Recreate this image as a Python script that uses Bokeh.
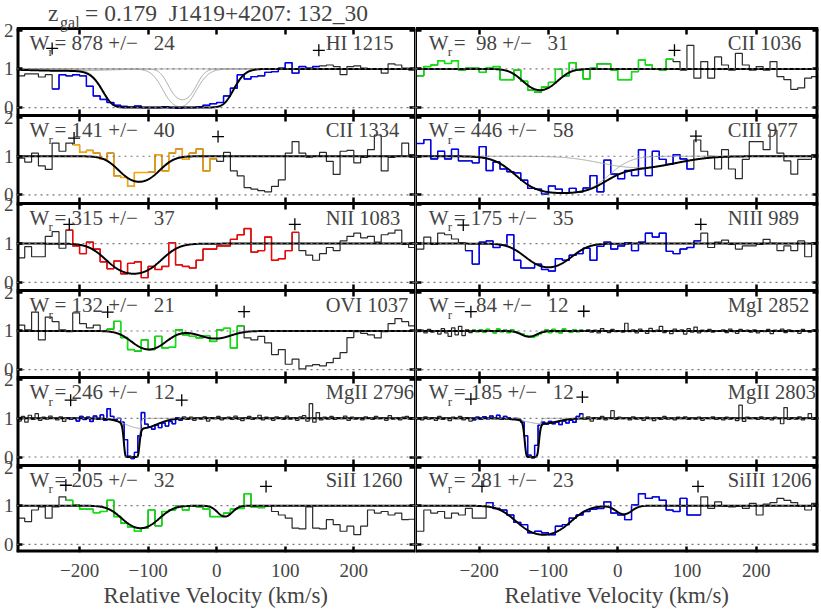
import numpy as np
from bokeh.plotting import figure
from bokeh.layouts import gridplot
from bokeh.models import LinearAxis, FixedTicker, Span, Label, Range1d
from bokeh.embed import file_html
from bokeh.resources import INLINE

FONT = "Liberation Serif"

# ---------------- axes / text ----------------
vel_min, vel_max = -292, 290
flux_min, flux_max = -0.21, 2.05
x_ticks = [-200, -100, 0, 100, 200]
x_tick_labels = ["\u2212200", "\u2212100", "0", "100", "200"]
y_ticks = [0, 1, 2]
x_axis_title = "Relative Velocity (km/s)"
title_z = "z"
title_sub = "gal"
title_rest = "= 0.179\u00a0\u00a0J1419+4207: 132_30"

# binning of the spectra (km/s)
cos_start, cos_width = -290.0, 10.0
hires_start, hires_width = -290.0, 5.0

# ---------------- HI 1215 ----------------
hi1215_flux = [0.82, 0.87, 0.87, 0.79, 0.85, 0.48, 0.85, 0.82, 0.85, 0.82,
               0.55, 0.30, 0.21, 0.13, 0.06, 0.03, 0.01, 0.04, 0.0, 0.0,
               0.0, 0.02, 0.0, -0.02, 0.0, 0.0, 0.02, 0.06, 0.10, 0.13,
               0.30, 0.50, 0.85, 0.74, 0.80, 0.82, 0.91, 0.93, 1.02, 1.16,
               0.89, 1.06, 1.02, 1.06, 1.08, 1.10, 1.06, 0.85, 1.06, 1.08,
               1.02, 0.99, 0.99, 0.89, 1.13, 1.10, 1.02, 0.97]
hi1215_window = [-240, 150]
hi1215_plus_v = [-240, 149]
hi1215_plus_y = [1.53, 1.48]
hi1215_comp_v = [-98, -27, -50, -220]
hi1215_comp_tau = [15.0, 7.7, 1.6, 0.05]
hi1215_comp_b = [40, 34, 20, 80]

# ---------------- CII 1036 ----------------
cii1036_flux = [0.82, 1.06, 1.10, 1.21, 1.14, 1.21, 0.97, 1.02, 1.02, 0.91,
                1.03, 1.06, 0.72, 0.72, 0.97, 0.68, 0.45, 0.40, 0.53, 0.65,
                0.99, 0.82, 1.16, 0.97, 0.74, 1.02, 1.13, 1.13, 0.97, 0.72,
                0.72, 0.93, 1.23, 1.10, 1.00, 0.97, 1.25, 1.19, 0.97, 1.61,
                0.76, 1.19, 0.76, 1.31, 1.10, 0.97, 1.40, 1.10, 0.97, 1.06,
                0.97, 1.19, 0.80, 0.72, 0.47, 0.51, 0.76, 0.80]
cii1036_window = [-292, 80]
cii1036_plus_v = [82]
cii1036_plus_y = [1.48]
cii1036_comp_v = [-112]
cii1036_comp_tau = [0.8]
cii1036_comp_b = [29]

# ---------------- CII 1334 ----------------
cii1334_flux = [0.95, 0.85, 1.08, 0.75, 0.66, 1.34, 1.13, 1.34, 1.30, 1.10,
                1.15, 1.08, 0.92, 1.08, 0.49, 0.45, 0.22, 0.58, 0.58, 0.59,
                1.04, 0.62, 1.08, 1.19, 0.92, 1.08, 1.19, 0.62, 0.93, 0.87,
                1.10, 0.62, 0.49, 0.19, 0.15, 0.11, 0.08, 0.22, 0.39, 1.08,
                1.38, 1.08, 0.98, 1.00, 1.10, 0.87, 0.53, 1.13, 1.15, 0.83,
                0.97, 1.17, 1.55, 0.62, 0.97, 1.00, 1.34, 1.04]
cii1334_window = [-212, 0]
cii1334_plus_v = [-208, 2]
cii1334_plus_y = [1.47, 1.51]
cii1334_comp_v = [-113]
cii1334_comp_tau = [1.08]
cii1334_comp_b = [32]

# ---------------- CIII 977 ----------------
ciii977_flux = [1.33, 1.43, 0.93, 1.13, 0.93, 1.18, 0.88, 0.88, 0.83, 1.25,
                0.63, 0.85, 0.67, 0.60, 0.57, 0.38, 0.17, 0.15, 0.02, 0.23,
                0.15, 0.04, 0.17, 0.08, 0.18, 0.50, 0.08, 0.90, 0.54, 0.42,
                0.63, 0.50, 1.17, 0.50, 1.13, 0.92, 0.79, 1.04, 0.93, 0.67,
                1.42, 1.13, 1.00, 0.67, 1.17, 0.67, 0.42, 0.92, 1.38, 1.38,
                1.17, 1.67, 1.08, 0.88, 0.54, 0.92, 0.92, 1.04]
ciii977_window = [-292, 113]
ciii977_plus_v = [113]
ciii977_plus_y = [1.52]
ciii977_comp_v = [-80, 30]
ciii977_comp_tau = [3.0, 0.35]
ciii977_comp_b = [55, 70]

# ---------------- NII 1083 ----------------
nii1083_flux = [0.63, 0.92, 0.66, 0.66, 1.19, 1.31, 0.88, 1.35, 0.94, 0.74,
                1.04, 0.86, 0.53, 0.35, 0.55, 0.22, 0.49, 0.53, 0.12, 0.41,
                0.33, 0.41, 1.02, 0.45, 0.41, 0.37, 0.57, 0.86, 0.86, 0.94,
                0.94, 1.11, 1.23, 1.39, 0.78, 0.82, 1.17, 0.57, 0.61, 0.82,
                1.29, 0.82, 0.70, 0.57, 0.74, 0.90, 0.82, 1.07, 1.19, 1.27,
                1.15, 1.19, 1.04, 1.23, 1.27, 1.35, 0.98, 0.90]
nii1083_window = [-216, 120]
nii1083_plus_v = [-215, 114]
nii1083_plus_y = [1.50, 1.50]
nii1083_comp_v = [-121]
nii1083_comp_tau = [1.51]
nii1083_comp_b = [40]

# ---------------- NIII 989 ----------------
niii989_flux = [0.86, 1.17, 0.98, 1.27, 1.23, 1.12, 1.02, 0.82, 0.47, 1.04,
                1.07, 0.90, 0.96, 1.23, 0.57, 0.37, 0.37, 0.47, 0.33, 0.29,
                0.61, 0.57, 0.70, 0.74, 0.88, 0.57, 0.93, 1.04, 0.86, 0.94,
                1.02, 0.82, 1.04, 1.27, 1.17, 1.27, 0.80, 0.74, 0.86, 0.90,
                1.07, 1.27, 0.90, 1.04, 1.09, 0.98, 0.86, 0.94, 0.94, 0.98,
                1.11, 1.01, 0.82, 0.94, 0.82, 1.07, 0.66, 1.02]
niii989_window = [-223, 119]
niii989_plus_v = [-223, 120]
niii989_plus_y = [1.48, 1.50]
niii989_comp_v = [-100]
niii989_comp_tau = [0.95]
niii989_comp_b = [37]

# ---------------- OVI 1037 ----------------
ovi1037_flux = [1.15, 1.03, 1.49, 0.77, 1.36, 1.24, 1.03, 0.98, 1.47, 1.19,
                1.08, 1.15, 1.00, 1.05, 1.25, 0.83, 0.52, 0.48, 0.77, 0.52,
                0.86, 0.56, 0.58, 1.03, 0.90, 0.86, 0.82, 0.88, 0.73, 1.03,
                1.07, 0.56, 1.13, 0.82, 0.77, 0.86, 0.69, 0.39, 0.52, 0.14,
                0.27, 0.02, 0.10, 0.13, 0.10, 0.18, 0.29, 0.44, 0.83, 0.98,
                0.94, 0.90, 0.82, 0.98, 1.19, 1.32, 1.24, 1.13]
ovi1037_window = [-160, 42]
ovi1037_plus_v = [-159, 40]
ovi1037_plus_y = [1.49, 1.50]
ovi1037_comp_v = [-99, -2]
ovi1037_comp_tau = [0.65, 0.22]
ovi1037_comp_b = [30, 30]

# ---------------- MgI 2852 ----------------
mgi2852_flux = [0.98, 1.02, 0.95, 1.04, 0.97, 1.01, 0.92, 1.06, 0.95, 0.86,
                1.08, 0.90, 1.12, 0.88, 1.03, 0.96,
                1.02, 0.98, 1.03, 0.97, 1.04, 0.99, 0.95, 1.05, 0.98, 1.02,
                0.96, 1.03, 0.98, 0.94, 0.92, 0.88, 0.86, 0.84, 0.88, 0.93,
                0.97, 1.03, 0.96, 1.04, 0.98, 0.95, 1.05, 0.99, 0.97, 1.03,
                0.98, 1.02, 0.99,
                1.03, 0.97, 1.02, 0.95, 1.06, 0.99, 0.96, 1.04, 0.98, 1.01,
                0.97, 1.20, 0.98, 1.03, 0.95, 1.05, 0.99, 0.94, 1.07, 0.98,
                1.02, 1.12, 0.96, 1.01, 0.93, 1.05, 0.99, 1.03, 0.92, 1.06,
                0.97, 1.10, 0.95, 1.02, 0.98, 1.04, 0.97, 1.01, 0.99, 1.03,
                0.96, 1.05, 0.98, 0.94, 1.04, 0.99, 1.02, 0.97, 1.03, 0.95,
                1.01, 0.98, 1.04, 0.93, 1.02, 0.99, 1.05, 0.96, 1.03, 0.98,
                1.01, 0.94, 1.04, 0.99, 0.97, 1.02, 1.00]
mgi2852_window = [-212, -49]
mgi2852_plus_v = [-212, -49]
mgi2852_plus_y = [1.50, 1.51]
mgi2852_comp_v = [-128]
mgi2852_comp_tau = [0.16]
mgi2852_comp_b = [15]

# ---------------- MgII 2796 ----------------
mgii2796_flux = [0.93, 1.05, 0.90, 1.08, 0.97, 1.12, 0.95, 1.03, 0.98, 1.06,
                 1.00, 0.96, 1.04, 0.92, 1.02, 0.98,
                 1.00, 0.93, 1.05, 0.97, 1.03, 0.92, 1.06, 0.98, 1.09, 0.95,
                 1.25, 1.05, 0.97, 1.00, 0.90, 0.45, 0.02, -0.04, 0.12, 0.55,
                 1.15, 0.85, 0.78, 0.72, 0.83, 0.76, 0.88, 0.80, 0.92, 0.86,
                 1.02, 0.95, 1.04,
                 0.97, 1.03, 0.95, 1.01, 0.98, 1.04, 0.93, 1.02, 0.99, 1.05,
                 0.96, 1.00, 1.03, 0.97, 1.06, 0.98, 0.94, 1.02, 1.05, 0.97,
                 1.00, 1.08, 0.96, 1.03, 0.99, 0.95, 1.04, 1.01, 0.97, 1.06,
                 0.98, 1.02, 0.95, 1.04, 1.07, 0.93, 1.38, 0.90, 1.15, 0.96,
                 1.03, 0.98, 1.05, 0.97, 1.02, 0.99, 1.06, 0.95, 1.03, 0.98,
                 1.01, 0.96, 1.04, 1.00, 0.97, 1.05, 0.99, 1.02, 0.95, 1.07,
                 0.98, 1.01, 0.96, 1.03, 1.05, 0.98, 1.02]
mgii2796_window = [-213, -50]
mgii2796_plus_v = [-213, -51]
mgii2796_plus_y = [1.47, 1.47]
mgii2796_comp_v = [-124, -110]
mgii2796_comp_tau = [30.0, 0.30]
mgii2796_comp_b = [6, 30]

# ---------------- MgII 2803 ----------------
mgii2803_flux = [1.00, 0.96, 1.04, 0.98, 1.02, 0.95, 1.05, 0.97, 1.01, 0.94,
                 1.03, 0.99, 1.05, 0.96, 1.02, 0.93,
                 0.96, 1.03, 0.98, 1.04, 0.99, 1.06, 1.02, 1.08, 0.98, 1.05,
                 1.02, 0.97, 1.00, 0.98, 0.90, 0.55, 0.05, -0.02, 0.30, 0.82,
                 0.90, 0.85, 0.92, 0.86, 0.90, 0.84, 0.93, 0.88, 0.95, 0.90,
                 1.05, 1.12, 0.98,
                 1.04, 0.93, 1.02, 0.98, 1.05, 0.96, 1.01, 1.20, 0.97, 1.03,
                 0.99, 1.02, 0.96, 1.04, 0.98, 1.01, 0.95, 1.03, 0.99, 0.94,
                 1.02, 0.97, 1.05, 0.98, 1.00, 0.96, 1.03, 0.99, 1.04, 0.97,
                 1.01, 0.98, 1.03, 0.95, 1.02, 0.99, 1.04, 0.97, 1.01, 0.96,
                 1.03, 0.98, 1.02, 0.94, 1.34, 0.92, 1.03, 0.99, 1.02, 0.97,
                 1.04, 0.98, 1.01, 0.96, 1.03, 0.99, 0.86, 1.28, 0.97, 1.02,
                 0.98, 1.04, 0.96, 1.01, 1.12, 0.97, 1.02]
mgii2803_window = [-212, -50]
mgii2803_plus_v = [-212, -51]
mgii2803_plus_y = [1.50, 1.55]
mgii2803_comp_v = [-124, -110]
mgii2803_comp_tau = [15.0, 0.15]
mgii2803_comp_b = [6, 30]

# ---------------- SiII 1260 ----------------
sii1260_flux = [0.68, 0.59, 0.89, 0.97, 0.68, 0.97, 1.23, 1.14, 1.02, 0.91,
                0.91, 0.82, 0.85, 1.14, 0.72, 0.55, 0.45, 0.34, 0.42, 0.89,
                0.48, 0.85, 0.89, 0.99, 0.89, 0.99, 0.97, 0.91, 0.72, 0.72,
                0.81, 0.91, 0.93, 1.31, 0.97, 0.95, 0.99, 0.85, 0.76, 0.68,
                0.42, 0.40, 0.97, 0.42, 0.40, 0.64, 0.51, 0.34, 0.47, 0.25,
                0.47, 0.89, 0.81, 0.85, 0.76, 0.81, 0.64, 0.65]
sii1260_window = [-222, 80]
sii1260_plus_v = [-220, 72]
sii1260_plus_y = [1.53, 1.50]
sii1260_comp_v = [-111, 12]
sii1260_comp_tau = [0.87, 0.33]
sii1260_comp_b = [31, 14]

# ---------------- SiIII 1206 ----------------
siiii1206_flux = [0.34, 0.89, 0.81, 0.85, 0.68, 0.81, 0.76, 0.93, 0.68, 0.68,
                  1.08, 0.93, 0.89, 0.76, 0.57, 0.51, 0.30, 0.34, 0.30, 0.25,
                  0.47, 0.51, 0.68, 0.76, 0.85, 0.91, 0.93, 1.10, 0.81, 0.76,
                  0.64, 1.02, 1.31, 1.19, 1.23, 1.14, 0.89, 0.85, 1.19, 0.76,
                  0.76, 1.23, 0.93, 1.10, 0.99, 0.97, 0.99, 0.93, 1.06, 0.76,
                  1.04, 1.08, 1.19, 1.14, 1.08, 0.99, 0.89, 1.06]
siiii1206_window = [-192, 118]
siiii1206_plus_v = [-196, 116]
siiii1206_plus_y = [1.50, 1.50]
siiii1206_comp_v = [-107, 9]
siiii1206_comp_tau = [1.39, 0.25]
siiii1206_comp_b = [40, 15]

# ---------------- panel table (built from the arrays above) ----------------
def spec(label, w, err, color, flux, start, width, window, plus_v, plus_y, cv, ctau, cb, show):
    return dict(label=label, w=w, err=err, color=color, flux=flux, start=start, width=width,
                window=window, plus_v=plus_v, plus_y=plus_y, cv=cv, ctau=ctau, cb=cb, show=show)

left_col = [
    spec("HI 1215", 878, 24, "#0000ff", hi1215_flux, cos_start, cos_width, hi1215_window,
         hi1215_plus_v, hi1215_plus_y, hi1215_comp_v, hi1215_comp_tau, hi1215_comp_b, True),
    spec("CII 1334", 141, 40, "#ffa500", cii1334_flux, cos_start, cos_width, cii1334_window,
         cii1334_plus_v, cii1334_plus_y, cii1334_comp_v, cii1334_comp_tau, cii1334_comp_b, False),
    spec("NII 1083", 315, 37, "#ff0000", nii1083_flux, cos_start, cos_width, nii1083_window,
         nii1083_plus_v, nii1083_plus_y, nii1083_comp_v, nii1083_comp_tau, nii1083_comp_b, False),
    spec("OVI 1037", 132, 21, "#00ee00", ovi1037_flux, cos_start, cos_width, ovi1037_window,
         ovi1037_plus_v, ovi1037_plus_y, ovi1037_comp_v, ovi1037_comp_tau, ovi1037_comp_b, False),
    spec("MgII 2796", 246, 12, "#0000ff", mgii2796_flux, hires_start, hires_width, mgii2796_window,
         mgii2796_plus_v, mgii2796_plus_y, mgii2796_comp_v, mgii2796_comp_tau, mgii2796_comp_b, True),
    spec("SiII 1260", 205, 32, "#00ee00", sii1260_flux, cos_start, cos_width, sii1260_window,
         sii1260_plus_v, sii1260_plus_y, sii1260_comp_v, sii1260_comp_tau, sii1260_comp_b, False),
]
right_col = [
    spec("CII 1036", 98, 31, "#00ee00", cii1036_flux, cos_start, cos_width, cii1036_window,
         cii1036_plus_v, cii1036_plus_y, cii1036_comp_v, cii1036_comp_tau, cii1036_comp_b, False),
    spec("CIII 977", 446, 58, "#0000ff", ciii977_flux, cos_start, cos_width, ciii977_window,
         ciii977_plus_v, ciii977_plus_y, ciii977_comp_v, ciii977_comp_tau, ciii977_comp_b, True),
    spec("NIII 989", 175, 35, "#0000ff", niii989_flux, cos_start, cos_width, niii989_window,
         niii989_plus_v, niii989_plus_y, niii989_comp_v, niii989_comp_tau, niii989_comp_b, False),
    spec("MgI 2852", 84, 12, "#00ee00", mgi2852_flux, hires_start, hires_width, mgi2852_window,
         mgi2852_plus_v, mgi2852_plus_y, mgi2852_comp_v, mgi2852_comp_tau, mgi2852_comp_b, False),
    spec("MgII 2803", 185, 12, "#0000ff", mgii2803_flux, hires_start, hires_width, mgii2803_window,
         mgii2803_plus_v, mgii2803_plus_y, mgii2803_comp_v, mgii2803_comp_tau, mgii2803_comp_b, True),
    spec("SiIII 1206", 281, 23, "#0000ff", siiii1206_flux, cos_start, cos_width, siiii1206_window,
         siiii1206_plus_v, siiii1206_plus_y, siiii1206_comp_v, siiii1206_comp_tau, siiii1206_comp_b, False),
]


def tau_profile(v, c, t, b):
    return t * np.exp(-((v - c) / b) ** 2)


TICK = dict(major_tick_in=6, major_tick_out=0, major_tick_line_width=2.5,
            major_tick_line_color="black", minor_tick_line_color=None,
            major_label_text_color=None)
NOTICK = dict(axis_line_color=None, major_tick_in=0, major_tick_out=0,
              major_tick_line_color=None, minor_tick_line_color=None)
NPAN = 6
PANEL_PX = 88
TOP_PX = 28
SPAN_H = flux_max - flux_min
TOP_H = SPAN_H * TOP_PX / PANEL_PX   # title band above the first panel


def make_column(panels, left):
    w = 415 if left else 406
    p = figure(width=w, height=610, x_range=Range1d(vel_min, vel_max),
               y_range=Range1d(0, NPAN * SPAN_H + TOP_H), output_backend="svg",
               toolbar_location=None, tools="", x_axis_location=None, y_axis_location=None,
               min_border_left=13 if left else 0, min_border_right=0 if left else 3,
               min_border_top=0, min_border_bottom=54)
    p.grid.grid_line_color = None
    p.outline_line_color = None
    p.background_fill_color = "white"
    p.border_fill_color = "white"
    # one stacked y scale per panel (top panel = 0)
    p.extra_y_ranges = {
        f"p{k}": Range1d(flux_min - (NPAN - 1 - k) * SPAN_H, flux_max + k * SPAN_H + TOP_H)
        for k in range(NPAN)
    }

    # labelled axes outside the frame (on the column's base scale)
    p.add_layout(LinearAxis(ticker=FixedTicker(ticks=x_ticks),
                            major_label_overrides=dict(zip(x_ticks, x_tick_labels)),
                            major_label_text_font=FONT, major_label_text_font_size="19px",
                            major_label_standoff=11, axis_label=x_axis_title,
                            axis_label_text_font=FONT, axis_label_text_font_size="23px",
                            axis_label_text_font_style="normal", axis_label_standoff=3,
                            **NOTICK), "below")
    if left:
        ypos, ylab = [], {}
        for k in range(NPAN):
            for t in y_ticks:
                pos = round(t - flux_min + (NPAN - 1 - k) * SPAN_H, 4)
                ypos.append(pos)
                ylab[pos] = str(t)
        p.add_layout(LinearAxis(ticker=FixedTicker(ticks=ypos), major_label_overrides=ylab,
                                major_label_text_font=FONT, major_label_text_font_size="19px",
                                major_label_standoff=3, **NOTICK), "left")

    for k, d in enumerate(panels):
        yr = f"p{k}"
        last = k == NPAN - 1
        # panel box drawn by its four axes, with inward ticks
        p.add_layout(LinearAxis(y_range_name=yr, fixed_location=flux_min,
                                ticker=FixedTicker(ticks=x_ticks), axis_line_color="black",
                                axis_line_width=6 if last else 3, **TICK), "below")
        p.add_layout(LinearAxis(y_range_name=yr, fixed_location=flux_max,
                                ticker=FixedTicker(ticks=x_ticks),
                                axis_line_color="black" if k == 0 else None,
                                axis_line_width=3, **TICK), "above")
        p.add_layout(LinearAxis(y_range_name=yr, fixed_location=vel_min,
                                bounds=(flux_min, flux_max), ticker=FixedTicker(ticks=y_ticks),
                                axis_line_color="black", axis_line_width=6 if left else 3,
                                **TICK), "left")
        p.add_layout(LinearAxis(y_range_name=yr, fixed_location=vel_max,
                                bounds=(flux_min, flux_max), ticker=FixedTicker(ticks=y_ticks),
                                axis_line_color="black", axis_line_width=3 if left else 6,
                                **TICK), "right")

        # reference levels
        for lvl in (0, 1):
            p.add_layout(Span(location=lvl, dimension="width", y_range_name=yr,
                              line_color="#777777", line_dash="2 4", line_width=1.2))

        # spectrum
        flux = np.array(d["flux"], dtype=float)
        edges = d["start"] + d["width"] * np.arange(len(flux) + 1)
        centers = edges[:-1] + d["width"] / 2
        p.step(edges, np.append(flux, flux[-1]), mode="after", y_range_name=yr,
               line_color="#2a2a2a", line_width=1.2)
        sel = np.where((centers >= d["window"][0]) & (centers <= d["window"][1]))[0]
        i0, i1 = sel[0], sel[-1]
        p.step(edges[i0:i1 + 2], np.append(flux[i0:i1 + 1], flux[i1]), mode="after",
               y_range_name=yr, line_color=d["color"], line_width=1.4)

        # fitted model
        vg = np.linspace(vel_min, vel_max, 1200)
        taus = [tau_profile(vg, c, t, b) for c, t, b in zip(d["cv"], d["ctau"], d["cb"])]
        if d["show"] and len(taus) > 1:
            for t in taus:
                p.line(vg, np.exp(-t), y_range_name=yr, line_color="#a0a0a0", line_width=1)
        p.line(vg, np.exp(-np.sum(taus, axis=0)), y_range_name=yr,
               line_color="black", line_width=2)

        # integration limits
        p.scatter(d["plus_v"], d["plus_y"], y_range_name=yr, marker="cross", size=12,
                  line_color="black", line_width=1.3)

        # texts
        ty, tx = 1.49, -273
        base = dict(y_range_name=yr, text_font=FONT, text_baseline="alphabetic")
        p.add_layout(Label(x=tx, y=ty, y_offset=7, text="W", text_font_size="21px", **base))
        p.add_layout(Label(x=tx, y=ty, x_offset=19, y_offset=-2, text="r",
                           text_font_size="13px", **base))
        eq = ("=%4d +/\u2212%5d" % (d["w"], d["err"])).replace(" ", "\u00a0")
        p.add_layout(Label(x=tx, y=ty, x_offset=25, y_offset=7, text=eq,
                           text_font_size="21px", **base))
        p.add_layout(Label(x=159, y=ty, y_offset=7, text=d["label"],
                           text_font_size="20.5px", **base))

        if k == 0 and left:
            zx, zy = -246, 2.33
            p.add_layout(Label(x=zx, y=zy, y_offset=4, text=title_z,
                               text_font_size="23.5px", **base))
            p.add_layout(Label(x=zx, y=zy, x_offset=12, y_offset=-5, text=title_sub,
                               text_font_size="16px", **base))
            p.add_layout(Label(x=zx, y=zy, x_offset=37, y_offset=4, text=title_rest,
                               text_font_size="23.5px", **base))
    return p


grid = gridplot([[make_column(left_col, True), make_column(right_col, False)]],
                toolbar_location=None)

open("out.html", "w").write(file_html(grid, INLINE))
